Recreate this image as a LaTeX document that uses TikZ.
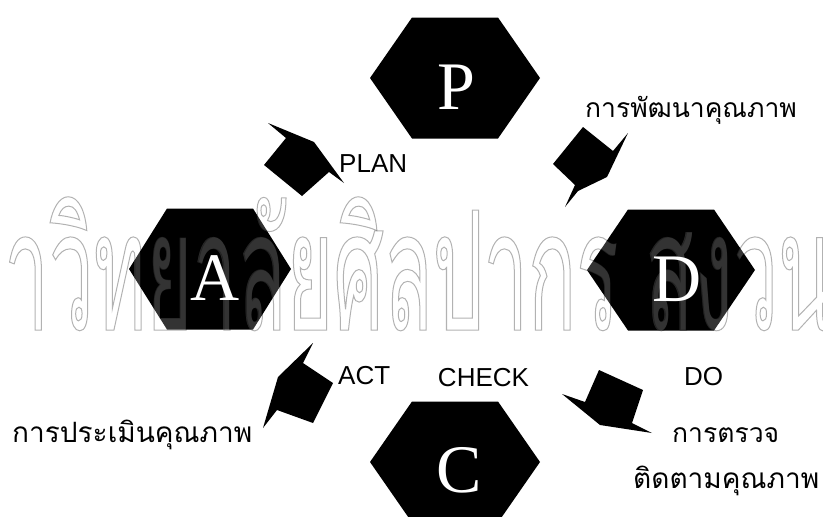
\documentclass[tikz,border=0pt]{standalone}
\usepackage{fontspec}
\setmainfont{Liberation Serif}
\newfontfamily\lbl{Liberation Sans}
\newfontfamily\thai[Script=Thai]{Loma}
\newfontfamily\wmfont[Script=Thai,FakeStretch=0.48]{Loma}
\tikzset{
  hexfill/.style={fill=black},
  letter/.style={text=white, font=\fontsize{68}{68}\selectfont, inner sep=0},
  eng/.style={font=\lbl\fontsize{26}{26}\selectfont, inner sep=0},
  thaitxt/.style={font=\thai\fontsize{28}{28}\selectfont, inner sep=0, anchor=base west},
  thaismall/.style={thaitxt, font=\thai\fontsize{26.5}{26.5}\selectfont},
  blockarrow/.style={fill=black},
  wm/.style={anchor=base west, inner sep=0, font=\wmfont\fontsize{166}{166}\selectfont},
}
\newcommand\hexagonat[3]{%
  \fill[hexfill] ([shift={(-#2,0)}]#1) -- ([shift={(-#3,-60.5)}]#1) -- ([shift={(#3,-60.5)}]#1)
   -- ([shift={(#2,0)}]#1) -- ([shift={(#3,60.5)}]#1) -- ([shift={(-#3,60.5)}]#1) -- cycle;}
\begin{document}
\begin{tikzpicture}[x=1pt,y=-1pt]
\useasboundingbox[fill=white] (0,0) rectangle (823,517);
% hexagon centres
\coordinate (hP) at (455,78);
\coordinate (hA) at (210,269);
\coordinate (hD) at (671,270);
\coordinate (hC) at (455,462);
\hexagonat{hP}{85}{43}
\hexagonat{hA}{81}{43}
\hexagonat{hD}{84}{43}
\hexagonat{hC}{85}{43}
% watermark
\begin{scope}
\clip (0,0) rectangle (823,517);
\node[wm, text=white, text opacity=0.2] (wm1) at (-101,330) {มหาวิทยาลัยศิลปากร สงวนลิขสิทธิ์};
\node[wm, text=black, opacity=0.3] (wm2) at (-101,330) {\special{pdf:literal direct 1 Tr 1 w}มหาวิทยาลัยศิลปากร สงวนลิขสิทธิ์\special{pdf:literal direct 0 Tr}};
\end{scope}
% letters
\node[letter] (P) at (456,87) {P};
\node[letter] (A) at (215,278) {A};
\node[letter] (D) at (677,279) {D};
\node[letter] (C) at (459,470) {C};
% english labels
\node[eng, anchor=west] (plan) at (339,164) {PLAN};
\node[eng, anchor=west] (act) at (338,376) {ACT};
\node[eng] (check) at (483.5,377.5) {CHECK};
\node[eng] (do) at (703.5,377) {DO};
% thai labels
\node[thaismall] (t1) at (585,117) {การพัฒนาคุณภาพ};
\node[thaitxt] (t2) at (12,442) {การประเมินคุณภาพ};
\node[thaismall] (t3) at (672,442) {การตรวจ};
\node[thaitxt] (t4) at (633,488) {ติดตามคุณภาพ};
% block arrows
\fill[blockarrow] (268,123) -- (314,142) -- (344,183) -- (329,172) -- (302,196) -- (264,165) -- (286,138) -- cycle;
\fill[blockarrow] (583,127) -- (613,151) -- (628,133) -- (607,177) -- (578,191) -- (565,207) -- (575,185) -- (553,164) -- cycle;
\fill[blockarrow] (599,370) -- (643,390) -- (632,423) -- (652,433) -- (600,425) -- (562,394) -- (585,402) -- cycle;
\fill[blockarrow] (313,343) -- (303,363) -- (333,383) -- (313,423) -- (277,410) -- (263,428) -- (278,377) -- cycle;
\end{tikzpicture}
\end{document}
